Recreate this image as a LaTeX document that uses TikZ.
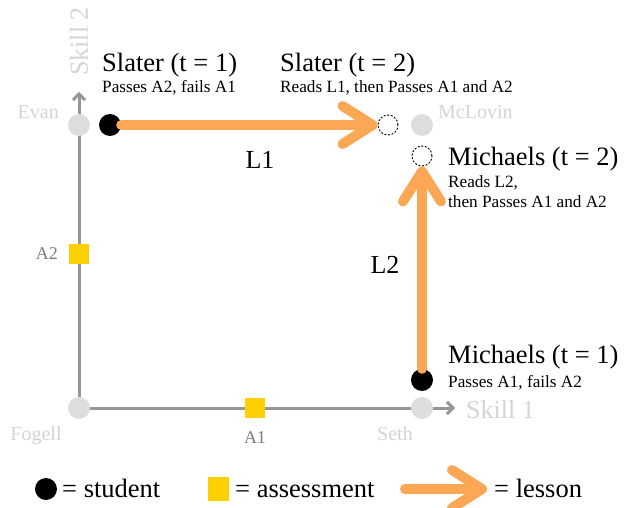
\documentclass[tikz,border=0pt]{standalone}
\usepackage{fontspec}
\setmainfont{Liberation Serif}
\usepackage{tikz}
\usetikzlibrary{arrows.meta}
\definecolor{lessonorange}{RGB}{251, 167, 84}
\definecolor{assessyellow}{RGB}{255, 208, 0}
\definecolor{dotgray}{RGB}{221, 221, 221}
\definecolor{axisgray}{RGB}{150, 150, 150}
\definecolor{namegray}{RGB}{212, 212, 212}
\definecolor{codegray}{RGB}{125, 125, 125}
\tikzset{
  student/.style={circle, fill=black, minimum size=22pt, inner sep=0pt},
  future/.style={circle, draw=black, dash pattern=on 2pt off 1.6pt, line width=0.9pt, fill=white, minimum size=20pt, inner sep=0pt},
  person/.style={circle, fill=dotgray, minimum size=22pt, inner sep=0pt},
  assess/.style={fill=assessyellow, minimum size=20pt, inner sep=0pt},
  lesson/.style={draw=lessonorange, line width=10pt, line cap=round,
    -{Straight Barb[round, length=30pt, width=38pt]}},
  title/.style={anchor=base west, inner sep=0pt, font=\fontsize{26.5}{30}\selectfont},
  note/.style={anchor=base west, inner sep=0pt, font=\fontsize{17.2}{20}\selectfont},
  namelbl/.style={inner sep=0pt, text=namegray, font=\fontsize{20}{24}\selectfont},
  codelbl/.style={inner sep=0pt, text=codegray, font=\fontsize{18}{22}\selectfont},
}

\begin{document}
\begin{tikzpicture}[x=1pt, y=-1pt]
    \useasboundingbox (0,0) rectangle (632,508);

    \coordinate (O) at (79,408);
    \coordinate (xtip) at (455,408);
    \coordinate (ytip) at (79,92);

    % Axes
    \draw[axisgray, line width=3pt, -{Straight Barb[length=6pt, width=12pt]}] (O) -- (xtip);
    \draw[axisgray, line width=3pt, -{Straight Barb[length=6pt, width=12pt]}] (O) -- (ytip);
    \node[namelbl, anchor=west, font=\fontsize{26}{30}\selectfont] (skillone) at (466,410) {Skill 1};
    \node[namelbl, anchor=east, rotate=90, font=\fontsize{26}{30}\selectfont] (skilltwo) at (79,7) {Skill 2};

    % Corners
    \node[person] (fogell) at (O) {};
    \node[person] (evan) at (79,125) {};
    \node[person] (seth) at (422,408) {};
    \node[person] (mclovin) at (422,125) {};
    \node[namelbl, anchor=base] (fogelllbl) at (36,440) {Fogell};
    \node[namelbl, anchor=base east] (evanlbl) at (59,119) {Evan};
    \node[namelbl, anchor=base] (sethlbl) at (395,440) {Seth};
    \node[namelbl, anchor=base west] (mclovinlbl) at (438,119) {McLovin};

    % Assessments
    \node[assess] (aone) at (255,408) {};
    \node[assess] (atwo) at (79,254) {};
    \node[codelbl, anchor=base] (aonelbl) at (255,443) {A1};
    \node[codelbl, anchor=east] (atwolbl) at (58,254) {A2};

    % Students
    \node[student] (slaterA) at (110,125) {};
    \node[future] (slaterB) at (388,125) {};
    \node[student] (michaelsA) at (422,380) {};
    \node[future] (michaelsB) at (422,156) {};

    % Lessons
    \draw[lesson] (slaterA) -- (slaterB);
    \draw[lesson] (michaelsA) -- (michaelsB);
    \node[font=\fontsize{26}{30}\selectfont] (lone) at (260,160) {L1};
    \node[font=\fontsize{26}{30}\selectfont] (ltwo) at (385,265) {L2};

    % Annotations
    \node[title] (slaterAt) at (102,72) {Slater (t = 1)};
    \node[note] (slaterAn) at (102,93) {Passes A2, fails A1};
    \node[title] (slaterBt) at (280,72) {Slater (t = 2)};
    \node[note] (slaterBn) at (280,93) {Reads L1, then Passes A1 and A2};
    \node[title] (michaelsBt) at (448,165) {Michaels (t = 2)};
    \node[note, anchor=north west, align=left] (michaelsBn) at (448,175) {Reads L2,\\then Passes A1 and A2};
    \node[title] (michaelsAt) at (448,363) {Michaels (t = 1)};
    \node[note] (michaelsAn) at (448,387) {Passes A1, fails A2};

    % Legend
    \node[student] (keydot) at (46,489) {};
    \node[title] (keydotlbl) at (62,497) {= student};
    \node[assess, minimum width=21pt, minimum height=24pt] (keysq) at (218,489) {};
    \node[title] (keysqlbl) at (235,497) {= assessment};
    \coordinate (keyfrom) at (405,489);
    \coordinate (keyto) at (487,489);
    \draw[lesson] (keyfrom) -- (keyto);
    \node[title] (keyarrlbl) at (494,497) {= lesson};
\end{tikzpicture}
\end{document}
